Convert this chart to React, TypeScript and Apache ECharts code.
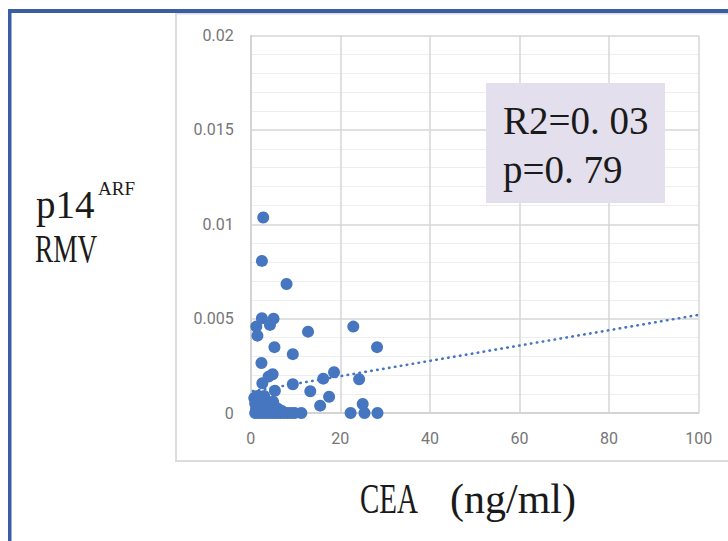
import React, { useEffect, useRef } from "react";
import * as echarts from "echarts";

const xTicks = [0, 20, 40, 60, 80, 100];
const yTicks = [0, 0.005, 0.01, 0.015, 0.02];

const pointsX = [
  2.8, 2.5, 8.0, 2.5, 5.1, 4.3, 1.25, 1.5, 12.8, 22.9, 5.3, 9.4, 28.2, 2.4, 18.6, 16.2, 24.2, 4.9, 4.0, 2.6,
  9.4, 5.4, 13.3, 17.5, 15.5, 25.0, 22.3, 25.4, 28.3, 11.3,
  0.8, 1.5, 2.3, 3.0, 3.8, 1.0, 1.8, 2.6, 3.4, 4.2, 5.0, 5.6, 6.2, 1.2, 2.0, 2.8, 3.6, 4.5, 5.3, 7.0,
  1.0, 1.8, 2.6, 3.4, 4.2, 5.0, 5.8, 6.6, 7.4, 8.2, 9.0, 9.8,
];
const pointsY = [
  0.01036, 0.00806, 0.00684, 0.00502, 0.005, 0.00467, 0.00458, 0.0041, 0.00431, 0.00458, 0.00349, 0.00312,
  0.00349, 0.00265, 0.00216, 0.00182, 0.00179, 0.00205, 0.00193, 0.00158, 0.00152, 0.00118, 0.00115, 0.00086,
  0.00039, 0.00048, 0, 0, 0, 0,
  0.0008, 0.0009, 0.0007, 0.0009, 0.0006, 0.0005, 0.0004, 0.0005, 0.0003, 0.0004, 0.0006, 0.0003, 0.0002,
  0.0002, 0.0001, 0.0002, 0.0001, 0.0001, 0.0001, 0.0001,
  0, 0, 0, 0, 0, 0, 0, 0, 0, 0, 0, 0,
];
const trendX = [0.5, 100];
const trendY = [0.00116, 0.0052];

const statLines = ["R2=0. 03", "p=0. 79"];
const yTitleMain = "p14";
const yTitleSup = "ARF";
const yTitleLine2 = "RMV";
const xTitleA = "CEA";
const xTitleB = "(ng/ml)";

const BLUE = "#4676bf";
const SERIF = "'Liberation Serif', 'DejaVu Serif', serif";

export default function App() {
  const ref = useRef<HTMLDivElement>(null);
  useEffect(() => {
    document.body.style.margin = "0";
    const chart = echarts.init(ref.current!, null, { renderer: "svg" });
    const scatterData = pointsX.map((x, i) => [x, pointsY[i]]);
    const trendData = trendX.map((x, i) => [x, trendY[i]]);
    chart.setOption({
      animation: false,
      backgroundColor: "#ffffff",
      grid: { left: 250.7, right: 29.3, top: 35.6, bottom: 128 },
      xAxis: {
        type: "value",
        min: xTicks[0],
        max: xTicks[xTicks.length - 1],
        interval: 20,
        axisLine: { show: true, lineStyle: { color: "#d0d0d0", width: 1.5 } },
        axisTick: { show: false },
        axisLabel: { color: "#767676", fontSize: 16, fontFamily: "Roboto", margin: 17 },
        splitLine: { show: true, lineStyle: { color: "#d6d6d6", width: 1.5 } },
      },
      yAxis: {
        type: "value",
        min: yTicks[0],
        max: yTicks[yTicks.length - 1],
        interval: 0.005,
        axisLine: { show: true, lineStyle: { color: "#d0d0d0", width: 1.5 } },
        axisTick: { show: false },
        axisLabel: { color: "#767676", fontSize: 16, fontFamily: "Roboto", margin: 17 },
        splitLine: { show: true, lineStyle: { color: "#d6d6d6", width: 1.5 } },
        minorTick: { show: false, splitNumber: 5 },
        minorSplitLine: { show: true, lineStyle: { color: "#eeeeee", width: 1 } },
      },
      series: [
        {
          type: "line",
          data: trendData,
          symbol: "none",
          lineStyle: { color: BLUE, width: 2.6, type: [0.5, 5.5], cap: "round" },
          z: 2,
        },
        {
          type: "scatter",
          data: scatterData,
          symbolSize: 12,
          itemStyle: { color: BLUE, opacity: 1 },
          z: 3,
        },
      ],
      graphic: [
        { type: "rect", z: -10, shape: { x: 176, y: 13.5, width: 560, height: 447.5 }, style: { fill: "none", stroke: "#dcdcdc", lineWidth: 2 } },
        { type: "rect", shape: { x: 8, y: 9, width: 720, height: 4 }, style: { fill: "#3a5da4" } },
        { type: "rect", shape: { x: 8, y: 9, width: 3.5, height: 532 }, style: { fill: "#3a5da4" } },
        { type: "rect", shape: { x: 486, y: 83, width: 179, height: 120 }, style: { fill: "#e4dfec" }, z: 10 },
        { type: "text", x: 503, y: 120, z: 11, style: { text: statLines[0], font: `39px ${SERIF}`, fill: "#1a1a1a", textVerticalAlign: "middle" } },
        { type: "text", x: 503, y: 169, z: 11, style: { text: statLines[1], font: `39px ${SERIF}`, fill: "#1a1a1a", textVerticalAlign: "middle" } },
        { type: "text", x: 36, y: 204, style: { text: yTitleMain, font: `39px ${SERIF}`, fill: "#1a1a1a", textVerticalAlign: "middle" } },
        { type: "text", x: 98, y: 188, style: { text: yTitleSup, font: `19px ${SERIF}`, fill: "#1a1a1a", textVerticalAlign: "middle" } },
        { type: "text", x: 35, y: 249, scaleX: 0.7, style: { text: yTitleLine2, font: `39px ${SERIF}`, fill: "#1a1a1a", textVerticalAlign: "middle" } },
        { type: "text", x: 360, y: 499, scaleX: 0.69, style: { text: xTitleA, font: `42px ${SERIF}`, fill: "#1a1a1a", textVerticalAlign: "middle" } },
        { type: "text", x: 450, y: 499, style: { text: xTitleB, font: `42px ${SERIF}`, fill: "#1a1a1a", textVerticalAlign: "middle" } },
      ],
    });
    return () => chart.dispose();
  }, []);
  return <div ref={ref} style={{ position: "absolute", left: 0, top: 0, width: 728, height: 541 }} />;
}
